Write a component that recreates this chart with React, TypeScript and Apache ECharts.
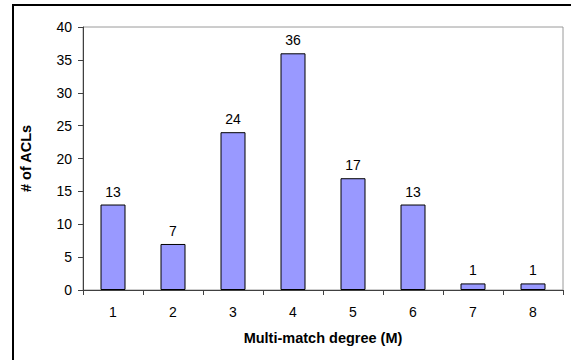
import React, { useEffect, useRef } from "react";
import * as echarts from "echarts";

const categories = ["1", "2", "3", "4", "5", "6", "7", "8"];
const aclCounts = [13, 7, 24, 36, 17, 13, 1, 1];
const yTicks = { min: 0, max: 40, interval: 5 };

export default function App() {
  const ref = useRef<HTMLDivElement>(null);

  useEffect(() => {
    if (!ref.current) return;
    const chart = echarts.init(ref.current, undefined, { renderer: "svg" });
    const font = "Arial, 'Liberation Sans', sans-serif";
    chart.setOption({
      animation: false,
      backgroundColor: "#ffffff",
      textStyle: { fontFamily: font },
      grid: {
        left: 83,
        top: 27,
        right: 8,
        bottom: 70,
        show: true,
        borderColor: "#9a9a9a",
        borderWidth: 1,
      },
      graphic: [
        {
          type: "rect",
          shape: { x: 13, y: 5, width: 600, height: 400 },
          style: { fill: "none", stroke: "#000000", lineWidth: 2 },
          silent: true,
          z: 100,
        },
      ],
      xAxis: {
        type: "category",
        data: categories,
        name: "Multi-match degree (M)",
        nameLocation: "middle",
        nameGap: 40,
        nameTextStyle: { fontFamily: font, fontSize: 14.5, fontWeight: "bold", color: "#000" },
        axisLine: { show: true, lineStyle: { color: "#404040", width: 1 } },
        axisTick: { show: true, alignWithLabel: false, length: 5, lineStyle: { color: "#404040" } },
        axisLabel: { fontFamily: font, fontSize: 14, color: "#000", margin: 15 },
        splitLine: { show: false },
      },
      yAxis: {
        type: "value",
        min: yTicks.min,
        max: yTicks.max,
        interval: yTicks.interval,
        name: "# of ACLs",
        nameLocation: "middle",
        nameGap: 50,
        nameRotate: 90,
        nameTextStyle: { fontFamily: font, fontSize: 14.5, fontWeight: "bold", color: "#000" },
        axisLine: { show: true, lineStyle: { color: "#404040", width: 1 } },
        axisTick: { show: true, inside: false, length: 5, lineStyle: { color: "#404040" } },
        axisLabel: { fontFamily: font, fontSize: 14, color: "#000", margin: 11 },
        splitLine: { show: false },
      },
      series: [
        {
          type: "bar",
          data: aclCounts,
          barWidth: 25,
          itemStyle: { color: "#9999ff", borderColor: "#000000", borderWidth: 1 },
          label: {
            show: true,
            position: "top",
            distance: 6,
            fontFamily: font,
            fontSize: 14,
            color: "#000",
          },
        },
      ],
    });
    return () => chart.dispose();
  }, []);

  return <div ref={ref} style={{ width: 571, height: 360, position: "absolute", left: 0, top: 0 }} />;
}
